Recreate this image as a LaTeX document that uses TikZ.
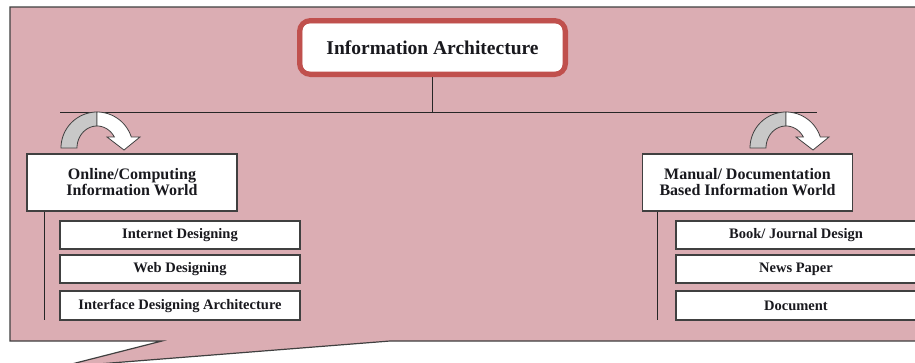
\documentclass[tikz,border=0pt]{standalone}
\usepackage{fontspec}
\setmainfont{Liberation Serif}
\definecolor{pinkbg}{RGB}{219,173,179}
\definecolor{titlered}{RGB}{192,80,77}
\definecolor{edge}{RGB}{64,64,64}
\definecolor{arrowgray}{RGB}{200,200,200}
\definecolor{txt}{RGB}{25,25,30}
\tikzset{
  titlebox/.style={draw=titlered, line width=5pt, rounded corners=11pt, fill=white,
    minimum width=266pt, minimum height=54pt, inner sep=0pt,
    font=\fontsize{19.5}{22}\selectfont\bfseries, text=txt},
  headbox/.style={draw=edge, line width=1.3pt, fill=white, minimum width=210pt,
    minimum height=57pt, inner sep=0pt, align=center,
    font=\fontsize{16}{16}\selectfont\bfseries, text=txt},
  subbox/.style={draw=edge, line width=1.3pt, fill=white, minimum width=240pt,
    minimum height=28pt, inner sep=0pt,
    font=\fontsize{14.5}{16}\selectfont\bfseries, text=txt},
  conn/.style={draw=black!85, line width=1pt},
  carrow/.pic={
    \draw[edge, line width=0.8pt, fill=arrowgray]
      plot[domain=180:90, samples=25] ({36*cos(\x)},{-36*sin(\x)})
      -- plot[domain=90:180, samples=25] ({20*cos(\x)},{-22*sin(\x)}) -- cycle;
    \draw[edge, line width=0.8pt, fill=white]
      plot[domain=90:17.8, samples=25] ({36*cos(\x)},{-36*sin(\x)})
      -- (43,-11) -- (27,2) -- (10,-11)
      -- plot[domain=30:90, samples=25] ({20*cos(\x)},{-22*sin(\x)}) -- cycle;
  }
}
\begin{document}
\begin{tikzpicture}[x=1pt, y=-1pt]
  \useasboundingbox (0,0) rectangle (915,362);
  \fill[white] (0,0) rectangle (915,362);
  % callout background
  \draw[edge, line width=1.2pt, fill=pinkbg]
    (10,7) -- (930,7) -- (930,341) -- (390,341) -- (60,367) -- (162,341) -- (10,341) -- cycle;

  % title
  \node[titlebox] (title) at (432.5,47.5) {Information Architecture};
  \draw[titlered, line width=0.9pt, rounded corners=7pt]
    ([shift={(5pt,5pt)}]title.south west) rectangle ([shift={(-5pt,-5pt)}]title.north east);

  % horizontal bar
  \coordinate (hl) at (60,112);
  \coordinate (hr) at (817,112);
  \draw[conn] (hl) -- (hr);
  \draw[conn] (title.south) -- (title.south |- hl);

  % curved arrows
  \pic at (97,148) {carrow};
  \pic at (786,148) {carrow};

  % headings
  \node[headbox] (lh) at (132,182.5) {Online/Computing\\Information World};
  \node[headbox] (rh) at (747.5,182.5) {Manual/ Documentation\\Based Information World};

  % left column
  \node[subbox] (l1) at (180,235) {Internet Designing};
  \node[subbox] (l2) at (180,269) {Web Designing};
  \node[subbox, minimum height=29pt] (l3) at (180,305.5) {Interface Designing Architecture};
  \coordinate (lvb) at (44,320);
  \draw[conn] (lvb |- lh.south) -- (lvb);

  % right column
  \node[subbox] (r1) at (796,235) {Book/ Journal Design};
  \node[subbox] (r2) at (796,269) {News Paper};
  \node[subbox, minimum height=29pt] (r3) at (796,305.5) {Document};
  \coordinate (rvb) at (657,320);
  \draw[conn] (rvb |- rh.south) -- (rvb);
\end{tikzpicture}
\end{document}
